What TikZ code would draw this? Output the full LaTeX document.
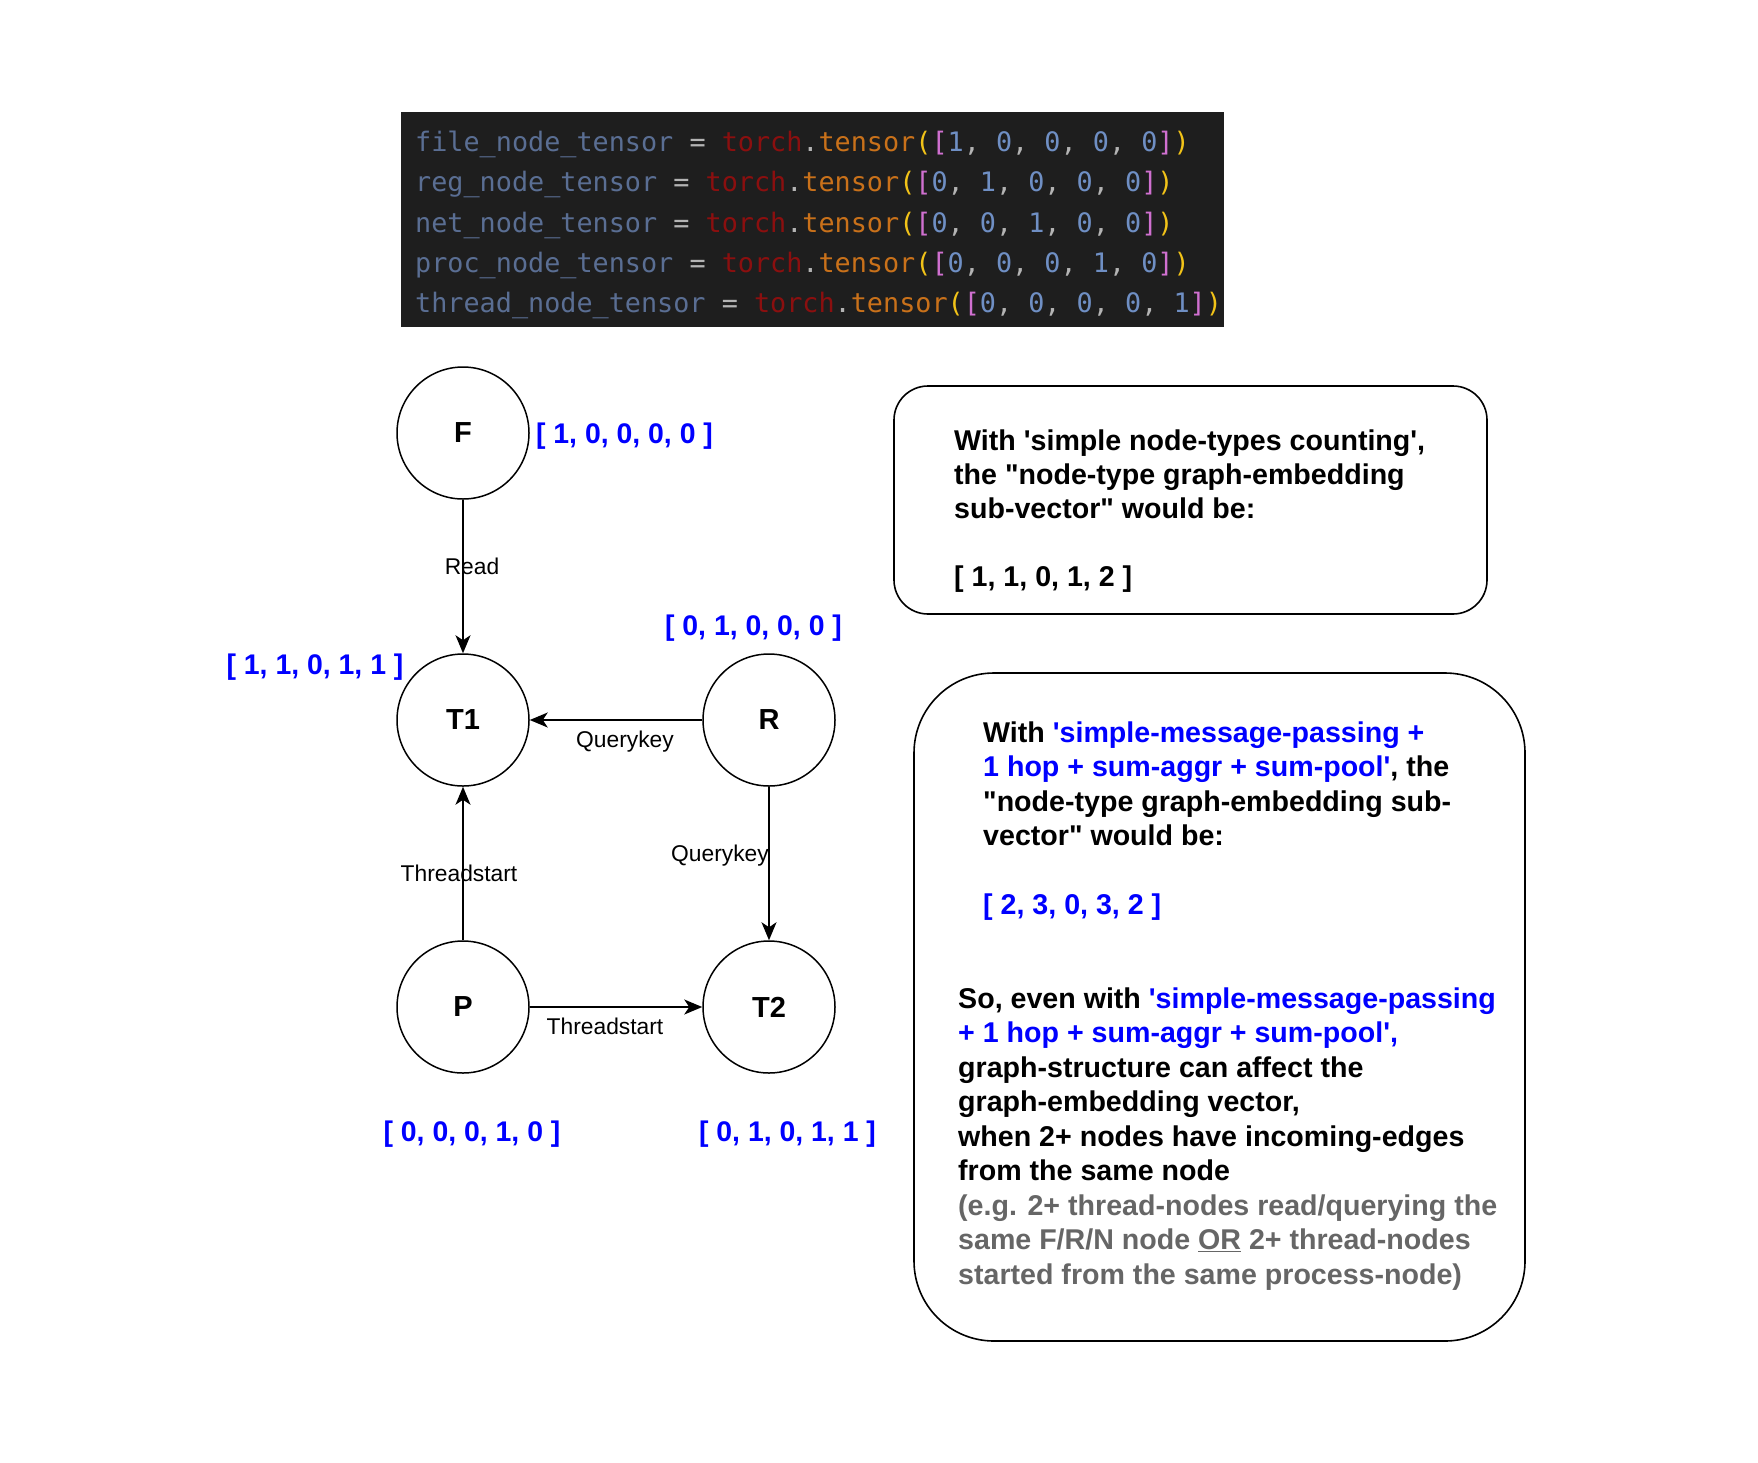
\documentclass[tikz,border=0pt]{standalone}
\usepackage{fontspec}
\setmainfont{Liberation Sans}
\newfontfamily\codefont{DejaVu Sans Mono}
\usetikzlibrary{arrows.meta}
\definecolor{codebg}{HTML}{1E1E1E}
\definecolor{codevar}{HTML}{5A6E93}
\definecolor{codetorch}{HTML}{8B0F0F}
\definecolor{codepunct}{HTML}{B4B4B4}
\definecolor{codetens}{HTML}{C9711A}
\definecolor{codepar}{HTML}{F2C318}
\definecolor{codebr}{HTML}{D070D0}
\definecolor{codenum}{HTML}{6F8FC4}
\definecolor{vecblue}{HTML}{0000FF}
\definecolor{notegray}{HTML}{666666}
\newcommand{\tline}[6]{\textcolor{codevar}{#1} \textcolor{codepunct}{=} \textcolor{codetorch}{torch}\textcolor{codepunct}{.}\textcolor{codetens}{tensor}\textcolor{codepar}{(}\textcolor{codebr}{[}\textcolor{codenum}{#2}\textcolor{codepunct}{,} \textcolor{codenum}{#3}\textcolor{codepunct}{,} \textcolor{codenum}{#4}\textcolor{codepunct}{,} \textcolor{codenum}{#5}\textcolor{codepunct}{,} \textcolor{codenum}{#6}\textcolor{codebr}{]}\textcolor{codepar}{)}}
\newcommand{\bl}[1]{\textcolor{vecblue}{#1}}
\newcommand{\qs}{\textquotesingle}
\newcommand{\qd}{\textquotedbl}
\begin{document}
\begin{tikzpicture}[x=1pt,y=-1pt,
  gnode/.style={circle,draw,line width=1.5pt,minimum size=132pt,inner sep=0pt,
    font=\fontsize{29}{32}\selectfont\bfseries},
  edge/.style={line width=1.5pt,-{Stealth[length=18pt,width=15pt,inset=5pt]}},
  elabel/.style={anchor=base,inner sep=0pt,font=\fontsize{22.8}{26}\selectfont},
  vlabel/.style={anchor=base,inner sep=0pt,text=vecblue,font=\fontsize{28.4}{32}\selectfont\bfseries},
  notebox/.style={draw,line width=1.6pt},
  notetext/.style={anchor=north west,inner sep=0pt,align=left}
]
\path[use as bounding box] (0,0) rectangle (1758,1462);

% code block
\fill[codebg] (401,112) rectangle (1224,327);
\node[notetext,font=\fontsize{26.8}{40.2}\selectfont\codefont] (code) at (415,123.4) {%
\strut\tline{file\_node\_tensor}{1}{0}{0}{0}{0}\\
\tline{reg\_node\_tensor}{0}{1}{0}{0}{0}\\
\tline{net\_node\_tensor}{0}{0}{1}{0}{0}\\
\tline{proc\_node\_tensor}{0}{0}{0}{1}{0}\\
\tline{thread\_node\_tensor}{0}{0}{0}{0}{1}};

% graph nodes
\node[gnode] (F) at (463,433) {F};
\node[gnode] (T1) at (463,720) {T1};
\node[gnode] (R) at (769,720) {R};
\node[gnode] (P) at (463,1007) {P};
\node[gnode] (T2) at (769,1007) {T2};

% edges
\draw[edge] (F) -- (T1);
\draw[edge] (R) -- (T1);
\draw[edge] (R) -- (T2);
\draw[edge] (P) -- (T1);
\draw[edge] (P) -- (T2);

% edge labels
\node[elabel] (lread) at (472,574.2) {Read};
\node[elabel] (lqk1) at (625,747.2) {Querykey};
\node[elabel] (lqk2) at (720,861.2) {Querykey};
\node[elabel] (lts1) at (459,881.2) {Threadstart};
\node[elabel] (lts2) at (605,1034.2) {Threadstart};

% vector labels
\node[vlabel] (vF) at (624.5,443.2) {[ 1, 0, 0, 0, 0 ]};
\node[vlabel] (vT1) at (315,674.2) {[ 1, 1, 0, 1, 1 ]};
\node[vlabel] (vR) at (753.5,635.2) {[ 0, 1, 0, 0, 0 ]};
\node[vlabel] (vP) at (472,1141.2) {[ 0, 0, 0, 1, 0 ]};
\node[vlabel] (vT2) at (787.5,1141.2) {[ 0, 1, 0, 1, 1 ]};

% note box 1
\draw[notebox,rounded corners=34pt] (894,386) rectangle (1487,614);
\node[notetext,font=\fontsize{28.6}{34}\selectfont\bfseries] (note1) at (954,426.2) {%
\strut With \qs simple node-types counting\qs,\\
the \qd node-type graph-embedding\\
sub-vector\qd\ would be:\\
\strut\\
{[ 1, 1, 0, 1, 2 ]}};

% note box 2
\draw[notebox,rounded corners=80pt] (914,673) rectangle (1525,1341);
\node[notetext,font=\fontsize{28.6}{34.5}\selectfont\bfseries] (note2a) at (983,717.9) {%
\strut With \bl{\qs simple-message-passing +}\\
\bl{1 hop + sum-aggr + sum-pool\qs}, the\\
\qd node-type graph-embedding sub-\\
vector\qd\ would be:\\
\strut\\
\bl{[ 2, 3, 0, 3, 2 ]}};
\node[notetext,font=\fontsize{28.6}{34.5}\selectfont\bfseries] (note2b) at (958,983.9) {%
\strut So, even with \bl{\qs simple-message-passing}\\
\bl{+ 1 hop + sum-aggr + sum-pool\qs,}\\
graph-structure can affect the\\
graph-embedding vector,\\
when 2+ nodes have incoming-edges\\
from the same node\\
\textcolor{notegray}{(e.g. 2+ thread-nodes read/querying the}\\
\textcolor{notegray}{same F/R/N node \underline{OR} 2+ thread-nodes}\\
\textcolor{notegray}{started from the same process-node)}};
\end{tikzpicture}
\end{document}
